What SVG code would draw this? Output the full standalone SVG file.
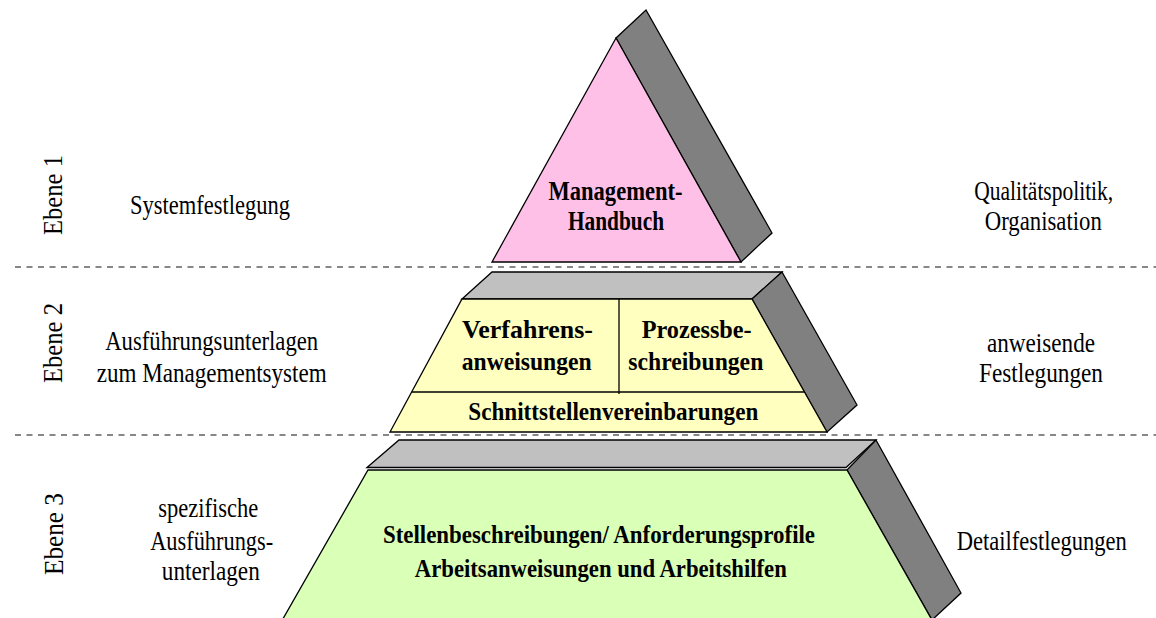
<svg xmlns="http://www.w3.org/2000/svg" width="1156" height="618" viewBox="0 0 1156 618">
<style>
.sh{stroke:#000;stroke-width:1.3;stroke-linejoin:miter}
.top{fill:#C0C0C0}
.side{fill:#808080}
.t{font-family:"Liberation Serif","Times New Roman",serif;font-size:27px;fill:#000;text-anchor:middle}
.b{font-family:"Liberation Serif","Times New Roman",serif;font-weight:bold;fill:#000;text-anchor:middle}
.sep{stroke:#111;stroke-width:1;stroke-dasharray:6 5.5;fill:none}
</style>
<rect width="1156" height="618" fill="#fff"/>
<g id="separators">
<line class="sep" x1="15" y1="267" x2="1156" y2="267"/>
<line class="sep" x1="15" y1="435" x2="1156" y2="435"/>
</g>
<g id="level1">
<polygon class="sh side" points="616,38 646,10 772,233 741,262"/>
<polygon class="sh" fill="#FFC0E8" points="616,38 741,262 492,262"/>
<text class="b" font-size="27" x="615.5" y="200" textLength="134" lengthAdjust="spacingAndGlyphs">Management-</text>
<text class="b" font-size="27" x="616" y="230" textLength="96" lengthAdjust="spacingAndGlyphs">Handbuch</text>
</g>
<g id="level2">
<polygon class="sh top" points="462,299 492,272 782,272 752,299"/>
<polygon class="sh side" points="752,299 782,272 857,405 827,432"/>
<polygon class="sh" fill="#FFFFC0" points="462,299 752,299 827,432 390,432"/>
<line class="sh" x1="411.7" y1="392" x2="804.5" y2="392"/>
<line class="sh" x1="619" y1="299" x2="619" y2="394"/>
<text class="b" font-size="25" x="527.5" y="338" textLength="131" lengthAdjust="spacingAndGlyphs">Verfahrens-</text>
<text class="b" font-size="25" x="526.7" y="370" textLength="130" lengthAdjust="spacingAndGlyphs">anweisungen</text>
<text class="b" font-size="25" x="696.7" y="338" textLength="110" lengthAdjust="spacingAndGlyphs">Prozessbe-</text>
<text class="b" font-size="25" x="695.8" y="370" textLength="135" lengthAdjust="spacingAndGlyphs">schreibungen</text>
<text class="b" font-size="25" x="613.3" y="420" textLength="290" lengthAdjust="spacingAndGlyphs">Schnittstellenvereinbarungen</text>
</g>
<g id="level3">
<polygon class="sh top" points="367,467.5 399,440 876,440 846,467.5"/>
<polygon class="sh side" points="847,470 876,440 961,593 932,620"/>
<polygon class="sh" fill="#DAFFB7" points="368,470 847,470 958,666 256,666"/>
<text class="b" font-size="26" x="599" y="543" textLength="432" lengthAdjust="spacingAndGlyphs">Stellenbeschreibungen/ Anforderungsprofile</text>
<text class="b" font-size="26" x="600.8" y="577" textLength="372" lengthAdjust="spacingAndGlyphs">Arbeitsanweisungen und Arbeitshilfen</text>
</g>
<g id="ebene-labels">
<text class="t" transform="translate(62,195) rotate(-90)" textLength="80" lengthAdjust="spacingAndGlyphs">Ebene 1</text>
<text class="t" transform="translate(62,343) rotate(-90)" textLength="80" lengthAdjust="spacingAndGlyphs">Ebene 2</text>
<text class="t" transform="translate(63,534) rotate(-90)" textLength="82" lengthAdjust="spacingAndGlyphs">Ebene 3</text>
</g>
<g id="left-labels">
<text class="t" x="210" y="214" textLength="160" lengthAdjust="spacingAndGlyphs">Systemfestlegung</text>
<text class="t" x="211.7" y="350" textLength="213" lengthAdjust="spacingAndGlyphs">Ausführungsunterlagen</text>
<text class="t" x="211.7" y="382" textLength="230" lengthAdjust="spacingAndGlyphs">zum Managementsystem</text>
<text class="t" x="208.3" y="517" textLength="100" lengthAdjust="spacingAndGlyphs">spezifische</text>
<text class="t" x="211.7" y="550" textLength="123" lengthAdjust="spacingAndGlyphs">Ausführungs-</text>
<text class="t" x="210.8" y="580" textLength="98" lengthAdjust="spacingAndGlyphs">unterlagen</text>
</g>
<g id="right-labels">
<text class="t" x="1043.7" y="200" textLength="139" lengthAdjust="spacingAndGlyphs">Qualitätspolitik,</text>
<text class="t" x="1043.3" y="230" textLength="117" lengthAdjust="spacingAndGlyphs">Organisation</text>
<text class="t" x="1041" y="352" textLength="108" lengthAdjust="spacingAndGlyphs">anweisende</text>
<text class="t" x="1041" y="382" textLength="124" lengthAdjust="spacingAndGlyphs">Festlegungen</text>
<text class="t" x="1041.7" y="550" textLength="170" lengthAdjust="spacingAndGlyphs">Detailfestlegungen</text>
</g>
</svg>
